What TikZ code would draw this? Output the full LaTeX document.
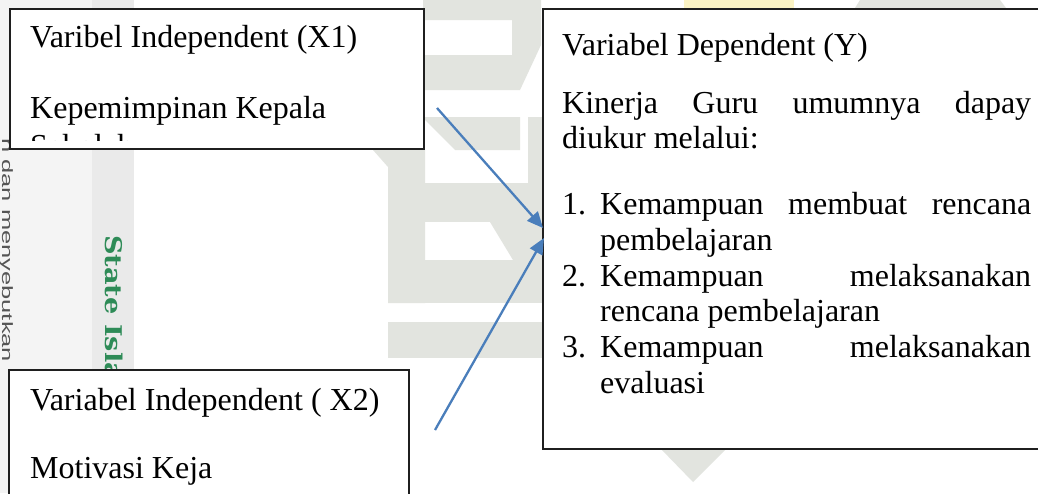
\documentclass[tikz,border=0pt]{standalone}
\usepackage{fontspec}
\usepackage{graphicx}
\setmainfont{Liberation Serif}
\newfontfamily\wmsans{Liberation Sans}
\newfontfamily\wmslab{DejaVu Serif}
\usetikzlibrary{arrows.meta,calc}
\definecolor{wm}{HTML}{E2E4DF}
\definecolor{arrowblue}{HTML}{4A7EBB}
\definecolor{boxline}{HTML}{1F1F1F}
\definecolor{stripbg}{HTML}{F4F4F4}
\definecolor{bandgray}{HTML}{EAEAEA}
\definecolor{wmgreen}{HTML}{2E8B57}
\definecolor{wmtext}{HTML}{555555}
\definecolor{wmyellow}{HTML}{FBF3C4}
\begin{document}
\begin{tikzpicture}[x=1pt,y=1pt,
  box/.style={draw=boxline, line width=1.5pt, fill=white, inner sep=0pt, anchor=north west},
  txt/.style={anchor=base west, inner sep=0pt, font=\fontsize{32}{36}\selectfont},
  conn/.style={draw=arrowblue, line width=2.3pt, -{Triangle[length=16pt,width=14pt]}},
  wmshape/.style={fill=wm}]
\useasboundingbox (0,0) rectangle (1038,-493);
\clip (0,0) rectangle (1038,-493);
\fill[white] (0,0) rectangle (1038,-493);
% faint watermark of the scanned page
\fill[stripbg] (0,0) rectangle (92,-493);
\fill[bandgray] (92,0) rectangle (134,-493);
\node[rotate=-90, anchor=base west, inner sep=0pt, text=wmtext,
  font=\wmsans\fontsize{15}{15}\selectfont] (wmA) at (2,-138) {\scalebox{1.7}[1]{n dan menyebutkan}};
\node[rotate=-90, anchor=base west, inner sep=0pt, text=wmgreen,
  font=\wmslab\bfseries\fontsize{23}{23}\selectfont] (wmB) at (105,-235) {\scalebox{1.18}[1]{State Isla}};
\fill[wmshape, even odd rule] (423,0) -- (541,0) -- (541,-45) -- (520,-90) -- (423,-90) -- cycle
  (423,-20) rectangle (512,-55);
\fill[wmshape] (425,-117) -- (520,-117) -- (520,-150) -- (455,-150) -- (425,-120) -- cycle;
\fill[wmshape] (528,-117) rectangle (542,-183);
\fill[wmshape] (373,-150) -- (425,-150) -- (425,-303) -- (388,-303) -- (388,-167) -- cycle;
\fill[wmshape] (425,-183) rectangle (542,-222);
\fill[wmshape] (490,-222) -- (542,-222) -- (542,-260) -- (513,-260) -- cycle;
\fill[wmshape] (388,-260) rectangle (542,-303);
\fill[wmshape] (388,-322) rectangle (542,-358);
\fill[wmshape] (660,-448) -- (727,-448) -- (693,-482) -- cycle;
\fill[wmyellow] (684,0) rectangle (794,-8);
\fill[wmshape] (860,0) -- (1000,0) -- (1006,-8) -- (855,-8) -- cycle;
% boxes
\node[box, minimum width=414pt, minimum height=140pt] (X1) at (9,-8) {};
\node[box, minimum width=508pt, minimum height=440pt] (Y) at (542,-8) {};
\node[box, minimum width=400pt, minimum height=140pt] (X2) at (8,-369) {};
% texts of X1
\node[txt] (t11) at (30,-47) {Varibel Independent (X1)};
\node[txt] (t12) at (30,-118) {Kepemimpinan Kepala};
\begin{scope}
  \clip (10,-9) rectangle (422,-140);
  \node[txt] (t13) at (30,-156) {Sekolah};
\end{scope}
% texts of Y
\node[txt] (ty0) at (562,-55) {Variabel Dependent (Y)};
\node[txt] (ty1) at (562,-113) {\makebox[469pt][s]{Kinerja Guru umumnya dapay}};
\node[txt] (ty2) at (562,-148) {diukur melalui:};
\node[txt] (ty3n) at (562,-214.5) {1.};
\node[txt] (ty3) at (600,-214.5) {\makebox[431pt][s]{Kemampuan membuat rencana}};
\node[txt] (ty4) at (600,-250.25) {pembelajaran};
\node[txt] (ty5n) at (562,-286) {2.};
\node[txt] (ty5) at (600,-286) {\makebox[431pt][s]{Kemampuan melaksanakan}};
\node[txt] (ty6) at (600,-321.75) {rencana pembelajaran};
\node[txt] (ty7n) at (562,-357.5) {3.};
\node[txt] (ty7) at (600,-357.5) {\makebox[431pt][s]{Kemampuan melaksanakan}};
\node[txt] (ty8) at (600,-393.25) {evaluasi};
% texts of X2
\node[txt] (t21) at (30,-410) {Variabel Independent ( X2)};
\node[txt] (t22) at (30,-478) {Motivasi Keja};
% connectors
\coordinate (a1s) at (437,-108);
\coordinate (a1e) at ($(Y.north west)+(1,-220)$);
\coordinate (a2s) at (435,-430);
\coordinate (a2e) at ($(Y.north west)+(2,-230)$);
\draw[conn] (a1s) -- (a1e);
\draw[conn] (a2s) -- (a2e);
\end{tikzpicture}
\end{document}
